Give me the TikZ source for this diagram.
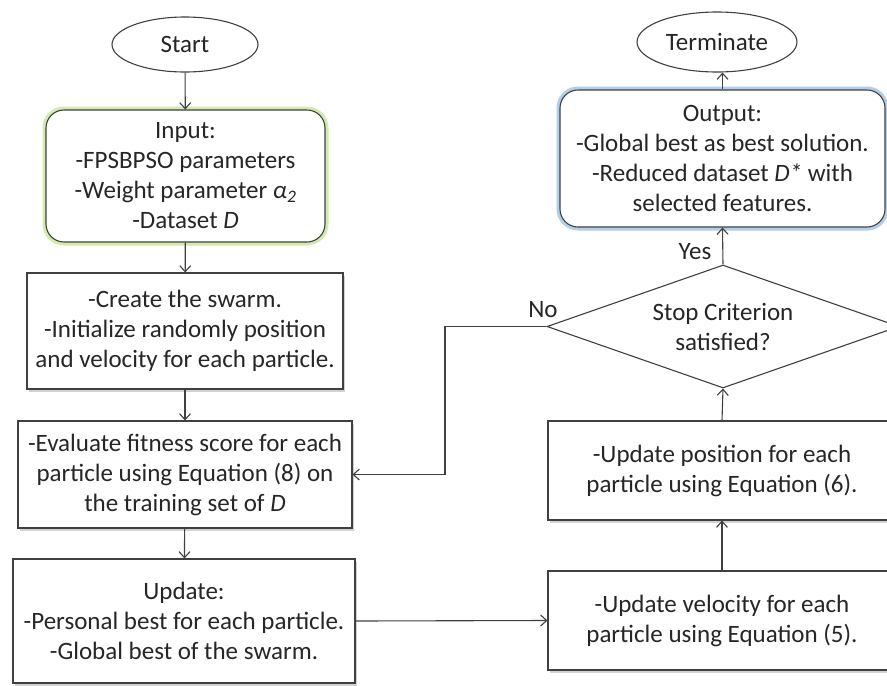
\documentclass[tikz,border=0pt]{standalone}
\usepackage{fontspec}
\setmainfont{Carlito}
\usetikzlibrary{shapes.geometric,arrows.meta,shadows}
\definecolor{linec}{HTML}{404040}
\definecolor{textc}{HTML}{262626}
\definecolor{glowgreen}{HTML}{C6E79A}
\definecolor{glowblue}{HTML}{9DC3E6}
\tikzset{
  base/.style={draw=linec, line width=1.1pt, fill=white, text=textc, align=center, inner sep=0pt,
    font=\fontsize{25}{30}\selectfont},
  termnode/.style={base, ellipse},
  procbox/.style={base, rectangle, drop shadow={shadow xshift=2pt, shadow yshift=-2.5pt, opacity=0.35}},
  iobox/.style={base, rectangle, rounded corners=18pt},
  greenglow/.style={preaction={draw=glowgreen, line width=7pt, opacity=0.8}},
  blueglow/.style={preaction={draw=glowblue, line width=7pt, opacity=0.8}},
  decision/.style={base, diamond},
  arr/.style={draw=linec, line width=1.1pt, -{Straight Barb[length=6pt,width=11pt]}},
  lab/.style={text=textc, font=\fontsize{25}{30}\selectfont, inner sep=0pt}
}
\begin{document}
\begin{tikzpicture}[x=1pt,y=-1pt]
\useasboundingbox (0,0) rectangle (887,686);
\clip (0,0) rectangle (887,686);
\fill[white] (0,0) rectangle (887,686);
% left column
\node[termnode, minimum width=146pt, minimum height=55pt] (start) at (185,44.5) {Start};
\node[iobox, greenglow, minimum width=279pt, minimum height=132pt] (input) at (185.5,176)
  {Input:\\-FPSBPSO parameters\\-Weight parameter {\itshape α\textsubscript{2}}\\-Dataset \textit{D}};
\node[procbox, minimum width=316pt, minimum height=116pt] (create) at (185,331)
  {-Create the swarm.\\-Initialize randomly position\\and velocity for each particle.};
\node[procbox, minimum width=334pt, minimum height=107pt] (eval) at (185,474.5)
  {-Evaluate fitness score for each\\particle using Equation (8) on\\the training set of \textit{D}};
\node[procbox, minimum width=342pt, minimum height=124pt] (update) at (184,621)
  {Update:\\-Personal best for each particle.\\-Global best of the swarm.};
% right column
\node[procbox, minimum width=348pt, minimum height=99pt] (velocity) at (722,620.5)
  {-Update velocity for each\\particle using Equation (5).};
\node[procbox, minimum width=348pt, minimum height=99pt] (position) at (722,470.5)
  {-Update position for each\\particle using Equation (6).};
\node[decision, minimum width=352pt, minimum height=123pt, shape aspect=2.86] (dia) at (723,326.5)
  {Stop Criterion\\satisfied?};
\node[iobox, blueglow, minimum width=325pt, minimum height=137pt] (output) at (722.5,158.5)
  {Output:\\-Global best as best solution.\\-Reduced dataset \textit{D*} with\\selected features.};
\node[termnode, minimum width=160pt, minimum height=60pt] (term) at (717,42) {Terminate};
% labels
\node[lab] (nolab) at (543,310) {No};
\node[lab] (yeslab) at (695,252) {Yes};
\coordinate (nox) at (445,400);
% connectors
\draw[arr] (start) -- (input);
\draw[arr] (input) -- (create);
\draw[arr] (create) -- (eval);
\draw[arr] (eval) -- (update);
\draw[arr] (update.east) -- (velocity.west);
\draw[arr] (velocity.north) -- (position.south);
\draw[arr] (position.north) -- (dia.south);
\draw[arr] (dia.north) -- (output.south);
\draw[arr] (output.north) -- (output.north |- term.south);
\draw[arr] (dia.west) -- (dia.west -| nox) |- (eval.east);
\end{tikzpicture}
\end{document}
